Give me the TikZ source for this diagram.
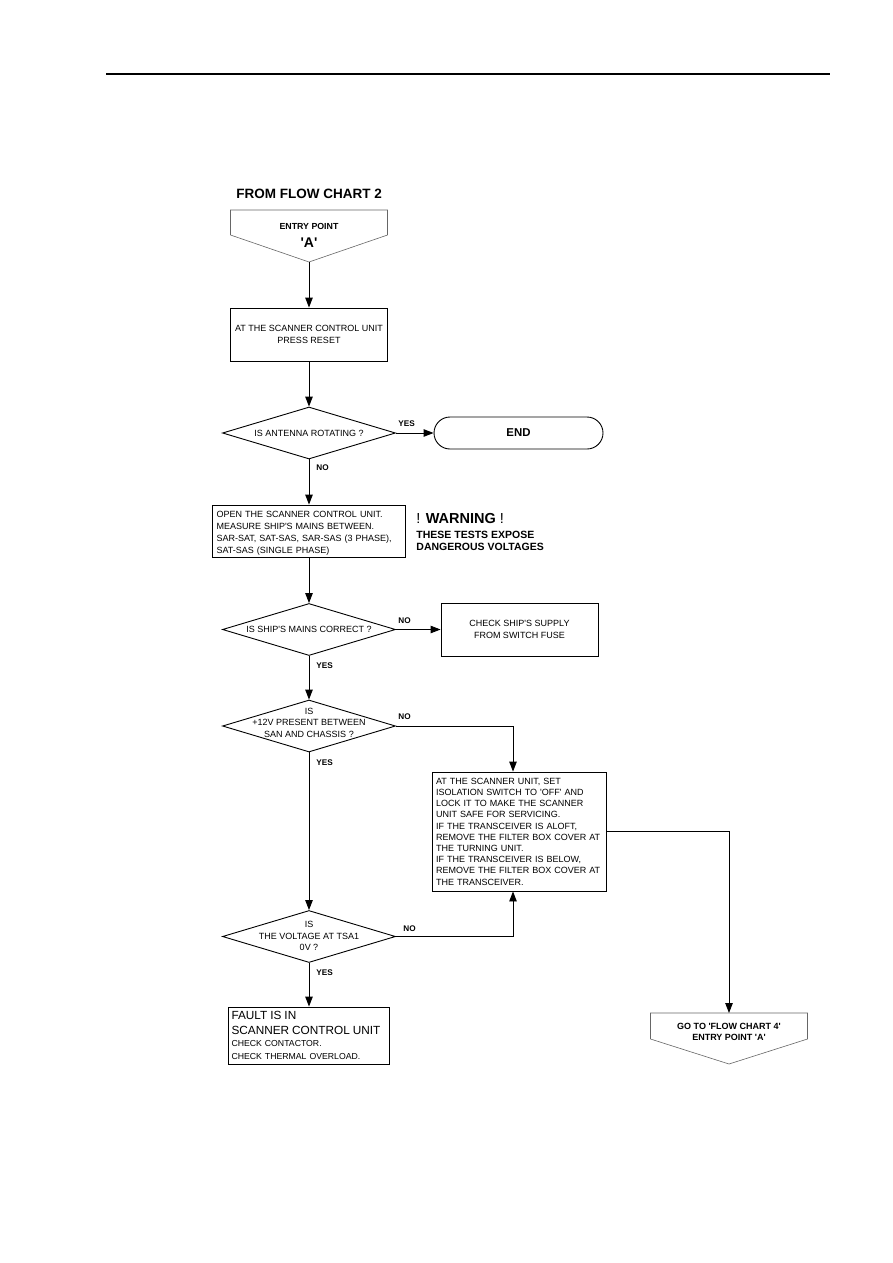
\documentclass[tikz,border=0pt]{standalone}
\usepackage{fontspec}
\setmainfont{Liberation Sans}
\usetikzlibrary{shapes.geometric,arrows.meta}
\newcommand{\tq}{\textquotesingle}

\begin{document}
\begin{tikzpicture}[x=1pt,y=-1pt,font=\fontsize{9}{12.2}\selectfont,line width=0.9pt,
    flow/.style={-{Triangle[length=10pt,width=7.5pt]}},
    box/.style={draw,rectangle,inner sep=0pt,align=center},
    leftbox/.style={draw,rectangle,inner xsep=4pt,inner ysep=0pt,align=left},
    decision/.style={draw,diamond,minimum width=173pt,minimum height=52pt,inner sep=0pt},
    tag/.style={anchor=west,inner sep=0pt,font=\fontsize{8.2}{10}\selectfont\bfseries},
    pent/.style={draw=black!60,line width=0.6pt}]

        % page
        \fill[white] (0,0) rectangle (893,1263);
        \useasboundingbox (0,0) rectangle (893,1263);

        % header rule
        \draw[line width=1.1pt] (106,74) -- (830,74);

        % Decision macro:
        % #1 = node name
        % #2 = y of centre
        % #3 = y of text
        % #4 = question text
        \newcommand{\decision}[4]{%
            \node[decision] (#1) at (309,#2) {};
            \node[align=center,inner sep=0pt,font=\fontsize{9}{11.5}\selectfont] (#1txt) at (309,#3) {#4};
        }

        % entry point
        \node[anchor=west,inner sep=0pt,font=\fontsize{13.5}{16}\selectfont\bfseries] (title) at (236,194) {FROM FLOW CHART 2};
        \draw[pent] (230.5,210) -- (387.5,210) -- (387.5,235) -- (309,262) -- (230.5,235) -- cycle;
        \coordinate (entrytip) at (309,262);
        \node[inner sep=0pt,font=\fontsize{8.8}{10}\selectfont\bfseries] (entry) at (309,226) {ENTRY POINT};
        \node[inner sep=0pt,font=\fontsize{14}{16}\selectfont\bfseries] (entryA) at (309,243) {\tq A\tq};

        % reset
        \node[box,minimum width=157pt,minimum height=53pt] (reset) at (309,334.5) {AT THE SCANNER CONTROL UNIT\\PRESS RESET};

        % rotating ?
        \decision{rot}{433}{433}{IS ANTENNA ROTATING ?}
        \node[draw,rectangle,rounded corners=16pt,minimum width=169pt,minimum height=32pt,
            font=\fontsize{11.4}{13}\selectfont\bfseries] (end) at (518.5,433) {END};

        % mains
        \node[leftbox,text width=185pt,minimum height=52pt] (mains) at (309,531) {\rule{0pt}{11pt}OPEN THE SCANNER CONTROL UNIT.\\MEASURE SHIP\tq S MAINS BETWEEN.\\SAR-SAT, SAT-SAS, SAR-SAS (3 PHASE),\\SAT-SAS (SINGLE PHASE)};
        \node[anchor=west,align=left,inner sep=0pt] (warn) at (416,532) {{\fontsize{14.5}{16}\selectfont ! \textbf{WARNING} !}\\[3pt]
            {\fontsize{10.5}{12}\selectfont\bfseries THESE TESTS EXPOSE}\\
            {\fontsize{10.5}{12}\selectfont\bfseries DANGEROUS VOLTAGES}};

        % mains correct ?
        \decision{mainsok}{629.5}{629.5}{IS SHIP\tq S MAINS CORRECT ?}
        \node[box,minimum width=157pt,minimum height=53pt] (supply) at (519.5,629.5) {CHECK SHIP\tq S SUPPLY\\FROM SWITCH FUSE};

        % +12V ?
        \decision{volts}{726}{722.5}{IS\\+12V PRESENT BETWEEN\\SAN AND CHASSIS ?}

        % isolation
        \node[leftbox,text width=166pt,minimum height=119pt,font=\fontsize{9}{11.2}\selectfont] (isolate) at (519,831.5) {AT THE SCANNER UNIT, SET\\ISOLATION SWITCH TO \tq OFF\tq{} AND\\LOCK IT TO MAKE THE SCANNER\\UNIT SAFE FOR SERVICING.\\IF THE TRANSCEIVER IS ALOFT,\\REMOVE THE FILTER BOX COVER AT\\THE TURNING UNIT.\\IF THE TRANSCEIVER IS BELOW,\\REMOVE THE FILTER BOX COVER AT\\THE TRANSCEIVER.};

        % TSA1 ?
        \decision{tsa}{936.5}{936}{IS\\THE VOLTAGE AT TSA1\\0V ?}

        % fault
        \node[leftbox,inner xsep=3pt,text width=155pt,minimum height=57pt] (fault) at (309,1035.5) {\fontsize{11.8}{14.5}\selectfont FAULT IS IN\\SCANNER CONTROL UNIT\\
            \fontsize{8.7}{12.5}\selectfont CHECK CONTACTOR.\\CHECK THERMAL OVERLOAD.};

        % go to flow chart 4
        \draw[pent] (650.5,1013) -- (807.5,1013) -- (807.5,1039) -- (729,1064) -- (650.5,1039) -- cycle;
        \coordinate (gotop) at (729,1013);
        \node[align=center,inner sep=0pt,font=\fontsize{9}{11}\selectfont\bfseries] (goto) at (729,1032) {GO TO \tq FLOW CHART 4\tq\\ENTRY POINT \tq A\tq};

        % connectors
        \draw[flow] (entrytip) -- (reset);
        \draw[flow] (reset) -- (rot);
        \draw[flow] (rot) -- (end);
        \draw[flow] (rot) -- (mains);
        \draw[flow] (mains) -- (mainsok);
        \draw[flow] (mainsok) -- (supply);
        \draw[flow] (mainsok) -- (volts);
        \coordinate (knee) at (513,726);
        \draw[flow] (volts.east) -- (knee) -- (knee |- isolate.north);
        \draw[flow] (tsa.east) -- (knee |- tsa.east) -- (knee |- isolate.south);
        \draw[flow] (isolate.east) -| (gotop);
        \draw[flow] (volts) -- (tsa);
        \draw[flow] (tsa) -- (fault);

        % yes / no
        \node[tag] (yes1) at (398,424) {YES};
        \node[tag] (no1) at (316,468) {NO};
        \node[tag] (no2) at (398,621) {NO};
        \node[tag] (yes2) at (316,666) {YES};
        \node[tag] (no3) at (398,717) {NO};
        \node[tag] (yes3) at (316,763) {YES};
        \node[tag] (no4) at (403,929) {NO};
        \node[tag] (yes4) at (316,973) {YES};
    \end{tikzpicture}
\end{document}
